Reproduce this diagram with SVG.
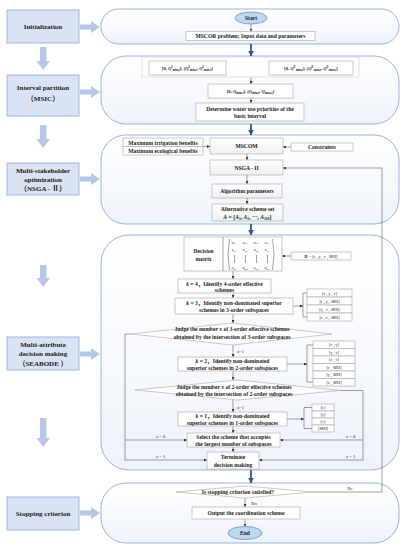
<svg xmlns="http://www.w3.org/2000/svg" width="404" height="550" viewBox="0 0 404 550">
<defs>
<linearGradient id="pg" x1="0" y1="0" x2="0" y2="1">
<stop offset="0" stop-color="#ffffff"/>
<stop offset="1" stop-color="#eef3fa"/>
</linearGradient>
<linearGradient id="bg" x1="0" y1="0" x2="0" y2="1">
<stop offset="0" stop-color="#ffffff"/>
<stop offset="1" stop-color="#f0f0f0"/>
</linearGradient>
<marker id="ah" viewBox="0 0 10 10" refX="10" refY="5" markerWidth="3" markerHeight="3" orient="auto" markerUnits="userSpaceOnUse"><path d="M0,0 L10,5 L0,10 z" fill="#333"/></marker>
<marker id="bh" viewBox="0 0 10 10" refX="9" refY="5" markerWidth="6" markerHeight="6" orient="auto" markerUnits="userSpaceOnUse"><path d="M0,0 L10,5 L0,10 z" fill="#2f5597"/></marker>
</defs>
<style>
.pn{fill:url(#pg);stroke:#8eaadb;stroke-width:0.9}
.lb{fill:#dae3f3;stroke:#8ea9db;stroke-width:0.8}
.ba{fill:#b4c7e7}
.bx{fill:url(#bg);stroke:#a6a6a6;stroke-width:0.6}
.wb{fill:#ffffff;stroke:#a6a6a6;stroke-width:0.6}
.fr{fill:none;stroke:#d0d0d0;stroke-width:0.6}
.ov{fill:#bdd7ee;stroke:#5b87c5;stroke-width:0.7}
.c{fill:none;stroke:#404040;stroke-width:0.5}
.ca{fill:none;stroke:#404040;stroke-width:0.5;marker-end:url(#ah)}
.bl{stroke:#2f5597;stroke-width:1.8;marker-end:url(#bh)}
text{font-family:"Liberation Serif","Noto Sans CJK SC",serif;fill:#1a1a1a}
.L{font-size:7px;font-weight:bold;text-anchor:middle}
.t{font-size:5.6px;font-weight:bold;text-anchor:middle}
.q{font-size:4.6px;font-weight:bold;text-anchor:middle}
.s{font-size:4.3px;text-anchor:middle}
.m{font-size:3.8px;font-style:italic;text-anchor:middle}
.lab{font-size:4.6px;font-style:italic}
.i{font-style:italic}
</style>

<g id="left-stages">
<g id="stage-init"><rect class="lb" x="7" y="10" width="72" height="33"/><text class="L" x="43" y="29">Initialization</text></g>
<g id="stage-interval"><rect class="lb" x="7" y="75" width="72" height="41"/><text class="L" x="43" y="90">Interval partition</text><text class="L" x="43" y="101">（MSIC）</text></g>
<g id="stage-msopt"><rect class="lb" x="7" y="163" width="72" height="32"/><text class="L" x="43" y="173">Multi-stakeholder</text><text class="L" x="43" y="182">optimization</text><text class="L" x="43" y="191">（NSGA - Ⅱ）</text></g>
<g id="stage-madm"><rect class="lb" x="7" y="337" width="72" height="33"/><text class="L" x="43" y="347">Multi-attribute</text><text class="L" x="43" y="356">decision making</text><text class="L" x="43" y="366">（SEABODE ）</text></g>
<g id="stage-stop"><rect class="lb" x="7" y="497" width="72" height="33"/><text class="L" x="43" y="516">Stopping criterion</text></g>
</g>

<g id="stage-arrows">
<polygon class="ba" points="80,24.5 91,24.5 91,21 100,27 91,33 91,29.5 80,29.5"/>
<polygon class="ba" points="80,89.5 91,89.5 91,86 100,92 91,98 91,94.5 80,94.5"/>
<polygon class="ba" points="80,176.5 91,176.5 91,173 100,179 91,185 91,181.5 80,181.5"/>
<polygon class="ba" points="80,351.5 91,351.5 91,348 100,354 91,360 91,356.5 80,356.5"/>
<polygon class="ba" points="80,510.5 91,510.5 91,507 100,513 91,519 91,515.5 80,515.5"/>
<polygon class="ba" points="40,47 46.5,47 46.5,61 50,61 43.2,70 36.5,61 40,61"/>
<polygon class="ba" points="40,125 46.5,125 46.5,139 50,139 43.2,148 36.5,139 40,139"/>
<polygon class="ba" points="40,265 46.5,265 46.5,278 50,278 43.2,287 36.5,278 40,278"/>
<polygon class="ba" points="40,418 46.5,418 46.5,438 50,438 43.2,447 36.5,438 40,438"/>
</g>

<g id="panels">
<rect class="pn" x="101" y="9" width="298" height="35" rx="17.5"/>
<rect class="pn" x="101" y="56" width="298" height="68" rx="25"/>
<rect class="pn" x="101" y="135" width="298" height="89" rx="25"/>
<rect class="pn" x="101" y="235" width="298" height="235" rx="28"/>
<rect class="pn" x="101" y="483" width="298" height="60" rx="25"/>
</g>

<g id="connectors">
<line class="bl" x1="251" y1="44" x2="251" y2="56"/>
<line class="bl" x1="251" y1="124" x2="251" y2="135"/>
<line class="bl" x1="251" y1="224" x2="251" y2="235"/>
<line class="bl" x1="251" y1="470" x2="251" y2="483"/>
<line class="ca" x1="251" y1="24" x2="251" y2="31.5"/>
<line class="ca" x1="251" y1="77" x2="251" y2="84"/>
<line class="ca" x1="251" y1="98" x2="251" y2="103"/>
<line class="ca" x1="203" y1="146.5" x2="210" y2="146.5"/>
<line class="ca" x1="291" y1="147" x2="283" y2="147"/>
<line class="ca" x1="247" y1="154" x2="247" y2="160"/>
<line class="ca" x1="247" y1="175" x2="247" y2="184"/>
<line class="ca" x1="247" y1="198" x2="247" y2="204"/>
<path class="ca" d="M313,492 H382 V168 H283"/>
<line class="ca" x1="291" y1="256" x2="282" y2="256"/>
<line class="ca" x1="233" y1="271" x2="233" y2="279"/>
<line class="ca" x1="233" y1="293" x2="233" y2="298"/>
<line class="ca" x1="293" y1="306" x2="303" y2="306"/>
<path class="c" d="M307,293 H303 V317 H307"/>
<line class="ca" x1="233" y1="314" x2="233" y2="323"/>
<line class="ca" x1="233" y1="345" x2="233" y2="357"/>
<line class="ca" x1="287" y1="364" x2="307" y2="364"/>
<path class="c" d="M313,345 H307 V382 H313"/>
<line class="ca" x1="233" y1="371" x2="233" y2="380"/>
<line class="ca" x1="233" y1="400" x2="233" y2="412"/>
<line class="ca" x1="287" y1="419" x2="304" y2="419"/>
<path class="c" d="M312,407.5 H304 V428.5 H312"/>
<line class="ca" x1="233" y1="426" x2="233" y2="433"/>
<line class="ca" x1="233" y1="447" x2="233" y2="452"/>
<path class="c" d="M131,334 H125 V460"/>
<line class="ca" x1="125" y1="440" x2="187" y2="440"/>
<line class="ca" x1="125" y1="460" x2="207" y2="460"/>
<path class="c" d="M340,390.5 H363 V460"/>
<line class="ca" x1="363" y1="440" x2="280" y2="440"/>
<line class="ca" x1="363" y1="460" x2="259" y2="460"/>
<line class="ca" x1="245" y1="498" x2="245" y2="507"/>
<line class="ca" x1="245" y1="519" x2="245" y2="526.5"/>
<text class="lab" x="237" y="353">x<tspan font-style="normal">=1</tspan></text>
<text class="lab" x="237" y="409">x<tspan font-style="normal">=1</tspan></text>
<text class="lab" x="156" y="438">x<tspan font-style="normal"> = 0</tspan></text>
<text class="lab" x="156" y="458">x<tspan font-style="normal"> = 1</tspan></text>
<text class="lab" x="346" y="438">x<tspan font-style="normal"> = 0</tspan></text>
<text class="lab" x="346" y="458">x<tspan font-style="normal"> = 1</tspan></text>
<text class="lab" x="251" y="505">Yes</text>
<text class="lab" x="347" y="490">No</text>
</g>

<g id="n-start"><ellipse class="ov" cx="251" cy="18" rx="16" ry="6"/><text class="t" x="251" y="20">Start</text></g>
<g id="n-mscor"><rect class="wb" x="186" y="31.5" width="129" height="9"/><text class="t" x="250.5" y="38">MSCOR problem; Input data and parameters</text></g>

<g id="n-interval-frame"><rect class="fr" x="142" y="57" width="217" height="20"/></g>
<g id="n-int-i"><rect class="wb" x="149" y="61" width="77" height="14"/>
<text class="q" x="187.5" y="69.5">[0, <tspan class="i">Q</tspan><tspan font-size="3.2" dy="-1.6">I</tspan><tspan font-size="3.2" dy="2.8">min,t</tspan><tspan dy="-1.2">], (</tspan><tspan class="i">Q</tspan><tspan font-size="3.2" dy="-1.6">I</tspan><tspan font-size="3.2" dy="2.8">min,t</tspan><tspan dy="-1.2">, </tspan><tspan class="i">Q</tspan><tspan font-size="3.2" dy="-1.6">I</tspan><tspan font-size="3.2" dy="2.8">max,t</tspan><tspan dy="-1.2">]</tspan></text></g>
<g id="n-int-e"><rect class="wb" x="269" y="61" width="84" height="14"/>
<text class="q" x="311" y="69.5">[0, <tspan class="i">Q</tspan><tspan font-size="3.2" dy="-1.6">E</tspan><tspan font-size="3.2" dy="2.8">min,t</tspan><tspan dy="-1.2">], (</tspan><tspan class="i">Q</tspan><tspan font-size="3.2" dy="-1.6">E</tspan><tspan font-size="3.2" dy="2.8">min,t</tspan><tspan dy="-1.2">, </tspan><tspan class="i">Q</tspan><tspan font-size="3.2" dy="-1.6">E</tspan><tspan font-size="3.2" dy="2.8">max,t</tspan><tspan dy="-1.2">]</tspan></text></g>
<g id="n-int-basic"><rect class="wb" x="208" y="84" width="85" height="14"/>
<text class="q" x="250.5" y="92.5">[0, <tspan class="i">Q</tspan><tspan font-size="3.2" dy="1.2">min,t</tspan><tspan dy="-1.2">], (</tspan><tspan class="i">Q</tspan><tspan font-size="3.2" dy="1.2">min,t</tspan><tspan dy="-1.2">, </tspan><tspan class="i">Q</tspan><tspan font-size="3.2" dy="1.2">max,t</tspan><tspan dy="-1.2">]</tspan></text></g>
<g id="n-priority"><rect class="wb" x="196" y="103" width="108" height="18"/><text class="t" x="250" y="110.5">Determine water use priorities of the</text><text class="t" x="250" y="117.5">basic interval</text></g>

<g id="n-objectives"><rect class="wb" x="123" y="138" width="80" height="8.5"/><rect class="wb" x="123" y="146.5" width="80" height="8.5"/><text class="t" x="163" y="144.5">Maximum irrigation benefits</text><text class="t" x="163" y="153">Maximum ecological benefits</text></g>
<g id="n-mscom"><rect class="bx" x="210" y="138" width="73" height="16"/><text class="t" x="246.5" y="148">MSCOM</text></g>
<g id="n-constraints"><rect class="wb" x="291" y="143" width="62" height="8"/><text class="t" x="322" y="149">Constraints</text></g>
<g id="n-nsga"><rect class="bx" x="210" y="160" width="73" height="15"/><text class="t" x="246.5" y="169.5">NSGA - II</text></g>
<g id="n-algo"><rect class="bx" x="212" y="184" width="70" height="14"/><text class="t" x="247" y="193">Algorithm parameters</text></g>
<g id="n-alt"><rect class="bx" x="212" y="204" width="71" height="17"/><text class="t" x="247.5" y="211">Alternative scheme set</text><text class="t" x="247.5" y="218.5"><tspan class="i">A</tspan> = {<tspan class="i">A</tspan><tspan font-size="3.6" dy="1">1</tspan><tspan dy="-1">, </tspan><tspan class="i">A</tspan><tspan font-size="3.6" dy="1">2</tspan><tspan dy="-1">, ···, </tspan><tspan class="i">A</tspan><tspan font-size="3.6" dy="1">100</tspan><tspan dy="-1">}</tspan></text></g>

<g id="n-matrix"><rect class="wb" x="184" y="237" width="98" height="34"/><line class="c" x1="223" y1="237" x2="223" y2="271" stroke="#a6a6a6"/>
<text class="t" x="203.5" y="253">Decision</text><text class="t" x="203.5" y="261">matrix</text>
<path class="c" d="M229.5,239 Q226.5,254 229.5,270"/><path class="c" d="M272.5,239 Q275.5,254 272.5,270"/>
<text class="m" x="234" y="243.5">a<tspan font-size="2.6" dy="0.8">11</tspan></text><text class="m" x="245" y="243.5">a<tspan font-size="2.6" dy="0.8">12</tspan></text><text class="m" x="256" y="243.5">a<tspan font-size="2.6" dy="0.8">13</tspan></text><text class="m" x="267" y="243.5">a<tspan font-size="2.6" dy="0.8">14</tspan></text>
<text class="m" x="234" y="251">a<tspan font-size="2.6" dy="0.8">21</tspan></text><text class="m" x="245" y="251">a<tspan font-size="2.6" dy="0.8">22</tspan></text><text class="m" x="256" y="251">a<tspan font-size="2.6" dy="0.8">23</tspan></text><text class="m" x="267" y="251">a<tspan font-size="2.6" dy="0.8">24</tspan></text>
<path class="c" d="M234.5,255 V263 M245.5,255 V263 M256.5,255 V263 M267.5,255 V263"/>
<text class="m" x="234" y="269">a<tspan font-size="2.6" dy="0.8">m1</tspan></text><text class="m" x="245" y="269">a<tspan font-size="2.6" dy="0.8">m2</tspan></text><text class="m" x="256" y="269">a<tspan font-size="2.6" dy="0.8">m3</tspan></text><text class="m" x="267" y="269">a<tspan font-size="2.6" dy="0.8">m4</tspan></text>
</g>
<g id="n-D"><rect class="wb" x="291" y="252" width="60" height="8"/><text class="s" x="321" y="257.8"><tspan font-weight="bold">D</tspan> = [ε , γ , ν , <tspan class="i">MSI</tspan>]</text></g>

<g id="n-k4"><rect class="wb" x="178" y="279" width="93" height="14"/><text class="t" x="224.5" y="285.5"><tspan class="i">k</tspan> = 4，Identify 4-order effective</text><text class="t" x="224.5" y="292.3">schemes</text></g>
<g id="n-k3"><rect class="wb" x="175" y="298" width="118" height="16"/><text class="t" x="234" y="305"><tspan class="i">k</tspan> = 3，Identify non-dominated superior</text><text class="t" x="234" y="312">schemes in 3-order subspaces</text></g>
<g id="n-sub3"><rect class="wb" x="307" y="289" width="45" height="8"/><rect class="wb" x="307" y="297" width="45" height="8"/><rect class="wb" x="307" y="305" width="45" height="8"/><rect class="wb" x="307" y="313" width="45" height="8"/>
<text class="s" x="329.5" y="294.6">[ε , γ , ν]</text><text class="s" x="329.5" y="302.6">[ε , γ , <tspan class="i">MSI</tspan>]</text><text class="s" x="329.5" y="310.6">[γ , ν , <tspan class="i">MSI</tspan>]</text><text class="s" x="329.5" y="318.6">[ε , ν , <tspan class="i">MSI</tspan>]</text></g>
<g id="n-judge3"><polygon class="wb" points="131,334 232,323 332,334 232,345"/><text class="t" x="232" y="331"><tspan>Judge the number </tspan><tspan class="i">x</tspan><tspan> of 3-order effective schemes</tspan></text><text class="t" x="232" y="339">obtained by the intersection of 3-order subspaces</text></g>
<g id="n-k2"><rect class="wb" x="178" y="357" width="109" height="14"/><text class="t" x="232.5" y="363"><tspan class="i">k</tspan> = 2，Identify non-dominated</text><text class="t" x="232.5" y="370">superior schemes in 2-order subspaces</text></g>
<g id="n-sub2"><rect class="wb" x="313" y="341" width="42" height="7.5"/><rect class="wb" x="313" y="348.5" width="42" height="7.5"/><rect class="wb" x="313" y="356" width="42" height="7.5"/><rect class="wb" x="313" y="363.5" width="42" height="7.5"/><rect class="wb" x="313" y="371" width="42" height="7.5"/><rect class="wb" x="313" y="378.5" width="42" height="7.5"/>
<text class="s" x="334" y="346.3">[ε , γ]</text><text class="s" x="334" y="353.8">[γ , ν]</text><text class="s" x="334" y="361.3">[ε , ν]</text><text class="s" x="334" y="368.8">[ε , <tspan class="i">MSI</tspan>]</text><text class="s" x="334" y="376.3">[γ , <tspan class="i">MSI</tspan>]</text><text class="s" x="334" y="383.8">[ν , <tspan class="i">MSI</tspan>]</text></g>
<g id="n-judge2"><polygon class="wb" points="135,390 238,380 340,390.5 238,400"/><text class="t" x="234" y="388.5"><tspan>Judge the number </tspan><tspan class="i">x</tspan><tspan> of 2-order effective schemes</tspan></text><text class="t" x="234" y="395.5">obtained by the intersection of 2-order subspaces</text></g>
<g id="n-k1"><rect class="wb" x="178" y="412" width="109" height="14"/><text class="t" x="232.5" y="418"><tspan class="i">k</tspan> = 1，Identify non-dominated</text><text class="t" x="232.5" y="425">superior schemes in 1-order subspaces</text></g>
<g id="n-sub1"><rect class="wb" x="312" y="404" width="22" height="7"/><rect class="wb" x="312" y="411" width="22" height="7"/><rect class="wb" x="312" y="418" width="22" height="7"/><rect class="wb" x="312" y="425" width="22" height="7"/>
<text class="s" x="323" y="409">[ε]</text><text class="s" x="323" y="416">[γ]</text><text class="s" x="323" y="423">[ν]</text><text class="s" x="323" y="430">[<tspan class="i">MSI</tspan>]</text></g>
<g id="n-select"><rect class="wb" x="187" y="433" width="93" height="14"/><text class="t" x="233.5" y="439">Select the scheme that occupies</text><text class="t" x="233.5" y="446">the largest number of subspaces</text></g>
<g id="n-terminate"><rect class="wb" x="207" y="452" width="52" height="17"/><text class="t" x="233" y="459">Terminate</text><text class="t" x="233" y="466.5">decision making</text></g>

<g id="n-stop"><polygon class="wb" points="176,492 245,486 313,492 245,498"/><text class="t" x="238" y="494">Is stopping criterion satisfied?</text></g>
<g id="n-output"><rect class="wb" x="192" y="507" width="108" height="12"/><text class="t" x="246" y="515">Output the coordination scheme</text></g>
<g id="n-end"><ellipse class="ov" cx="245" cy="533" rx="17" ry="6.5"/><text class="t" x="245" y="535">End</text></g>
</svg>
